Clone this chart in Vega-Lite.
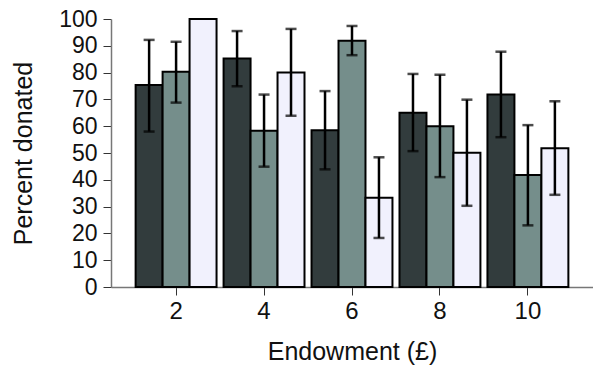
{
  "$schema": "https://vega.github.io/schema/vega-lite/v6.json",
  "width": 482,
  "height": 268,
  "autosize": {"type": "none"},
  "padding": {"left": 111, "top": 19, "right": 0, "bottom": 84},
  "background": "white",
  "config": {
    "view": {"stroke": null},
    "font": "Liberation Sans",
    "axis": {"grid": false, "labelFont": "Liberation Sans", "titleFont": "Liberation Sans", "labelColor": "#111", "titleColor": "#111", "titleFontWeight": "normal"},
    "axisY": {"labelFontSize": 23, "titleFontSize": 25, "tickSize": 8, "tickColor": "#333", "tickWidth": 1, "domainColor": "#777", "domainWidth": 1.5, "labelPadding": 6, "titlePadding": 22}
  },
  "data": {"values": [
    {"endowment": "2", "condition": "A", "pct": 75.4, "lo": 58, "hi": 92.2},
    {"endowment": "2", "condition": "B", "pct": 80.3, "lo": 68.8, "hi": 91.5},
    {"endowment": "2", "condition": "C", "pct": 100, "lo": null, "hi": null},
    {"endowment": "4", "condition": "A", "pct": 85.3, "lo": 74.9, "hi": 95.5},
    {"endowment": "4", "condition": "B", "pct": 58.3, "lo": 44.9, "hi": 71.8},
    {"endowment": "4", "condition": "C", "pct": 80, "lo": 63.9, "hi": 96.3},
    {"endowment": "6", "condition": "A", "pct": 58.5, "lo": 43.9, "hi": 73.1},
    {"endowment": "6", "condition": "B", "pct": 91.9, "lo": 86.5, "hi": 97.4},
    {"endowment": "6", "condition": "C", "pct": 33.3, "lo": 18.3, "hi": 48.4},
    {"endowment": "8", "condition": "A", "pct": 65, "lo": 50.7, "hi": 79.5},
    {"endowment": "8", "condition": "B", "pct": 60, "lo": 41, "hi": 79.2},
    {"endowment": "8", "condition": "C", "pct": 50.1, "lo": 30.3, "hi": 69.9},
    {"endowment": "10", "condition": "A", "pct": 71.8, "lo": 55.9, "hi": 87.8},
    {"endowment": "10", "condition": "B", "pct": 41.8, "lo": 23, "hi": 60.4},
    {"endowment": "10", "condition": "C", "pct": 51.8, "lo": 34.4, "hi": 69.3}
  ]},
  "encoding": {
    "x": {
      "field": "endowment", "type": "ordinal", "sort": ["2", "4", "6", "8", "10"],
      "scale": {"paddingInner": 0.08, "paddingOuter": 0.28},
      "axis": {"title": "Endowment (£)", "labelAngle": 0, "labelFontSize": 24, "titleFontSize": 25, "tickSize": 8, "tickColor": "#333", "tickWidth": 1, "domainColor": "#777", "domainWidth": 1.5, "labelPadding": 4, "titlePadding": 16}
    },
    "xOffset": {"field": "condition", "type": "nominal", "scale": {"paddingInner": 0, "paddingOuter": 0}}
  },
  "layer": [
    {
      "mark": {"type": "bar", "stroke": "#000", "strokeWidth": 2},
      "encoding": {
        "y": {
          "field": "pct", "type": "quantitative",
          "scale": {"domain": [0, 100], "nice": false},
          "axis": {"title": "Percent donated", "values": [0, 10, 20, 30, 40, 50, 60, 70, 80, 90, 100], "tickCount": 11, "labelOverlap": false, "labelFlush": false, "labelBound": false}
        },
        "fill": {
          "field": "condition", "type": "nominal",
          "scale": {"domain": ["A", "B", "C"], "range": ["#323c3d", "#758e8b", "#f1f1fd"]},
          "legend": null
        }
      }
    },
    {
      "mark": {"type": "rule", "stroke": "#000", "strokeWidth": 2.5},
      "transform": [{"filter": "datum.lo != null"}],
      "encoding": {
        "y": {"field": "lo", "type": "quantitative", "axis": {"title": "Percent donated", "values": [0, 10, 20, 30, 40, 50, 60, 70, 80, 90, 100], "tickCount": 11, "labelOverlap": false, "labelFlush": false, "labelBound": false}},
        "y2": {"field": "hi"}
      }
    },
    {
      "mark": {"type": "tick", "color": "#000", "thickness": 2.5, "size": 11, "orient": "horizontal"},
      "transform": [{"filter": "datum.lo != null"}],
      "encoding": {"y": {"field": "lo", "type": "quantitative", "axis": {"title": "Percent donated", "values": [0, 10, 20, 30, 40, 50, 60, 70, 80, 90, 100], "tickCount": 11, "labelOverlap": false, "labelFlush": false, "labelBound": false}}}
    },
    {
      "mark": {"type": "tick", "color": "#000", "thickness": 2.5, "size": 11, "orient": "horizontal"},
      "transform": [{"filter": "datum.hi != null"}],
      "encoding": {"y": {"field": "hi", "type": "quantitative", "axis": {"title": "Percent donated", "values": [0, 10, 20, 30, 40, 50, 60, 70, 80, 90, 100], "tickCount": 11, "labelOverlap": false, "labelFlush": false, "labelBound": false}}}
    }
  ]
}
